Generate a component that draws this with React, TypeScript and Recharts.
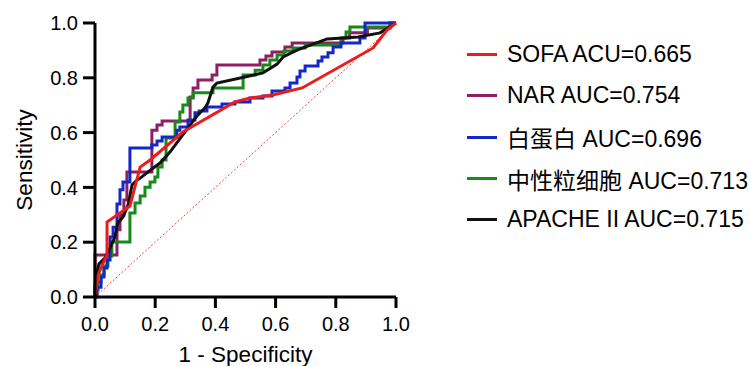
import { LineChart, Line, XAxis, YAxis, Legend, Label } from 'recharts';

const fontFamily = "'Liberation Sans', Arial, 'Noto Sans CJK SC', sans-serif";

// ROC points: [1 - specificity, sensitivity]
const sofaRoc: [number, number][] = [
  [0, 0], [0.01, 0.08], [0.027, 0.124], [0.04, 0.153], [0.04, 0.274], [0.116, 0.332],
  [0.15, 0.474], [0.183, 0.5], [0.292, 0.602], [0.465, 0.712], [0.515, 0.726],
  [0.591, 0.737], [0.688, 0.763], [0.924, 0.909], [0.97, 0.974], [1, 1],
];

const narRoc: [number, number][] = [
  [0, 0], [0, 0.153], [0.073, 0.153], [0.073, 0.245], [0.083, 0.245], [0.083, 0.299],
  [0.096, 0.299], [0.096, 0.354], [0.106, 0.354], [0.106, 0.456], [0.189, 0.456],
  [0.189, 0.609], [0.206, 0.609], [0.206, 0.628], [0.223, 0.628], [0.223, 0.642],
  [0.316, 0.642], [0.316, 0.73], [0.326, 0.73], [0.326, 0.763], [0.342, 0.763],
  [0.342, 0.792], [0.389, 0.792], [0.389, 0.81], [0.405, 0.81], [0.405, 0.847],
  [0.548, 0.847], [0.548, 0.865], [0.568, 0.865], [0.568, 0.88], [0.588, 0.88],
  [0.588, 0.894], [0.631, 0.894], [0.631, 0.912], [0.655, 0.912], [0.655, 0.927],
  [0.824, 0.927], [0.824, 0.945], [0.846, 0.945], [0.846, 0.964], [0.905, 0.964],
  [0.905, 0.982], [0.98, 0.982], [0.98, 1], [1, 1],
];

const albuminRoc: [number, number][] = [
  [0, 0], [0.007, 0], [0.007, 0.036], [0.02, 0.036], [0.02, 0.073], [0.03, 0.073],
  [0.03, 0.106], [0.04, 0.106], [0.04, 0.135], [0.05, 0.135], [0.05, 0.219],
  [0.06, 0.219], [0.06, 0.255], [0.073, 0.255], [0.073, 0.339], [0.083, 0.339],
  [0.083, 0.391], [0.093, 0.391], [0.093, 0.42], [0.116, 0.42], [0.116, 0.544],
  [0.189, 0.544], [0.189, 0.555], [0.206, 0.555], [0.206, 0.569], [0.223, 0.569],
  [0.223, 0.584], [0.272, 0.584], [0.272, 0.609], [0.282, 0.609], [0.282, 0.62],
  [0.309, 0.62], [0.309, 0.646], [0.332, 0.646], [0.332, 0.672], [0.346, 0.672],
  [0.346, 0.679], [0.372, 0.679], [0.372, 0.693], [0.422, 0.693], [0.422, 0.704],
  [0.465, 0.704], [0.465, 0.712], [0.515, 0.712], [0.515, 0.726], [0.558, 0.726],
  [0.558, 0.734], [0.588, 0.734], [0.588, 0.752], [0.631, 0.752], [0.631, 0.763],
  [0.648, 0.763], [0.648, 0.781], [0.671, 0.781], [0.671, 0.803], [0.681, 0.803],
  [0.681, 0.825], [0.698, 0.825], [0.698, 0.843], [0.741, 0.843], [0.741, 0.861],
  [0.754, 0.861], [0.754, 0.876], [0.774, 0.876], [0.774, 0.891], [0.791, 0.891],
  [0.791, 0.912], [0.817, 0.912], [0.817, 0.927], [0.88, 0.927], [0.88, 0.945],
  [0.897, 0.945], [0.897, 1], [1, 1],
];

const neutrophilRoc: [number, number][] = [
  [0, 0], [0, 0.026], [0.01, 0.026], [0.01, 0.055], [0.02, 0.055], [0.02, 0.08],
  [0.03, 0.08], [0.03, 0.113], [0.043, 0.113], [0.043, 0.15], [0.056, 0.15],
  [0.056, 0.201], [0.116, 0.201], [0.116, 0.307], [0.133, 0.307], [0.133, 0.343],
  [0.15, 0.343], [0.15, 0.369], [0.166, 0.369], [0.166, 0.401], [0.183, 0.401],
  [0.183, 0.42], [0.199, 0.42], [0.199, 0.438], [0.209, 0.438], [0.209, 0.474],
  [0.223, 0.474], [0.223, 0.5], [0.236, 0.5], [0.236, 0.58], [0.266, 0.58],
  [0.266, 0.639], [0.282, 0.639], [0.282, 0.675], [0.292, 0.675], [0.292, 0.701],
  [0.309, 0.701], [0.309, 0.726], [0.326, 0.726], [0.326, 0.745], [0.392, 0.745],
  [0.392, 0.763], [0.492, 0.763], [0.492, 0.81], [0.532, 0.81], [0.532, 0.828],
  [0.558, 0.828], [0.558, 0.847], [0.581, 0.847], [0.581, 0.865], [0.605, 0.865],
  [0.605, 0.883], [0.628, 0.883], [0.628, 0.898], [0.658, 0.898], [0.658, 0.909],
  [0.698, 0.909], [0.698, 0.92], [0.817, 0.92], [0.817, 0.945], [0.834, 0.945],
  [0.834, 0.967], [0.847, 0.967], [0.847, 0.985], [0.98, 0.985], [0.98, 1], [1, 1],
];

const apacheRoc: [number, number][] = [
  [0, 0], [0, 0.044], [0.007, 0.091], [0.013, 0.12], [0.033, 0.142], [0.05, 0.179],
  [0.066, 0.219], [0.076, 0.27], [0.093, 0.292], [0.11, 0.336], [0.123, 0.409],
  [0.14, 0.427], [0.15, 0.434], [0.189, 0.467], [0.216, 0.489], [0.249, 0.529],
  [0.276, 0.569], [0.306, 0.613], [0.339, 0.661], [0.365, 0.69], [0.375, 0.708],
  [0.392, 0.766], [0.405, 0.781], [0.498, 0.803], [0.558, 0.818], [0.605, 0.85],
  [0.625, 0.876], [0.671, 0.901], [0.771, 0.942], [0.824, 0.945], [0.874, 0.949],
  [0.947, 0.964], [0.99, 0.993], [1, 1],
];

const chanceLine: [number, number][] = [[0, 0], [1, 1]];

const axisTicks = [0, 0.2, 0.4, 0.6, 0.8, 1.0];

const legendItems = [
  { label: 'SOFA ACU=0.665', color: '#ee1b1b' },
  { label: 'NAR AUC=0.754', color: '#8e1f62' },
  { label: '白蛋白 AUC=0.696', color: '#1428c8' },
  { label: '中性粒细胞 AUC=0.713', color: '#178a1a' },
  { label: 'APACHE II AUC=0.715', color: '#111111' },
];

const toPoints = (pairs: [number, number][]) => pairs.map(([x, y]) => ({ x, y }));

const LegendBox = () => (
  <div style={{ fontFamily, fontSize: 23, color: '#000' }}>
    {legendItems.map((item) => (
      <div key={item.label} style={{ display: 'flex', alignItems: 'center', height: 41.3 }}>
        <span style={{ display: 'inline-block', width: 30, height: 3, marginLeft: 2, background: item.color }} />
        <span style={{ marginLeft: 10, whiteSpace: 'nowrap' }}>{item.label}</span>
      </div>
    ))}
  </div>
);

const axisLineStyle = { stroke: '#000', strokeWidth: 3 };
const tickStyle = { fill: '#000', fontSize: 20, fontFamily };
const fmt = (v: number) => v.toFixed(1);

const App = () => (
  <div style={{ position: 'absolute', left: 0, top: 0, width: 750, height: 366, background: '#fff' }}>
    <LineChart width={750} height={366} margin={{ top: 23, right: 354, bottom: 19, left: 0 }}>
      <XAxis
        type="number"
        dataKey="x"
        domain={[0, 1]}
        ticks={axisTicks}
        tickFormatter={fmt}
        height={50}
        tickSize={11}
        tickMargin={9}
        axisLine={axisLineStyle}
        tickLine={axisLineStyle}
        tick={tickStyle}
      >
        <Label value="1 - Specificity" position="bottom" offset={-1} style={{ fontSize: 22.5, fill: '#000', fontFamily }} />
      </XAxis>
      <YAxis
        type="number"
        domain={[0, 1]}
        ticks={axisTicks}
        tickFormatter={fmt}
        width={95}
        tickSize={12}
        tickMargin={5}
        axisLine={axisLineStyle}
        tickLine={axisLineStyle}
        tick={tickStyle}
      >
        <Label
          value="Sensitivity"
          angle={-90}
          position="insideLeft"
          offset={24}
          style={{ fontSize: 22.5, fill: '#000', fontFamily, textAnchor: 'middle' }}
        />
      </YAxis>
      <Line data={toPoints(chanceLine)} dataKey="y" type="linear" stroke="#f04040" strokeWidth={1} strokeDasharray="2 2" dot={false} isAnimationActive={false} />
      <Line data={toPoints(narRoc)} dataKey="y" type="linear" stroke="#8e1f62" strokeWidth={3} dot={false} isAnimationActive={false} />
      <Line data={toPoints(neutrophilRoc)} dataKey="y" type="linear" stroke="#178a1a" strokeWidth={3} dot={false} isAnimationActive={false} />
      <Line data={toPoints(albuminRoc)} dataKey="y" type="linear" stroke="#1428c8" strokeWidth={3} dot={false} isAnimationActive={false} />
      <Line data={toPoints(apacheRoc)} dataKey="y" type="linear" stroke="#111111" strokeWidth={3} dot={false} isAnimationActive={false} />
      <Line data={toPoints(sofaRoc)} dataKey="y" type="linear" stroke="#ee1b1b" strokeWidth={3} dot={false} isAnimationActive={false} />
      <Legend
        layout="vertical"
        align="center"
        verticalAlign="middle"
        wrapperStyle={{ left: 465, top: 34, width: 285, height: 210 }}
        content={() => <LegendBox />}
      />
    </LineChart>
  </div>
);

export default App;
